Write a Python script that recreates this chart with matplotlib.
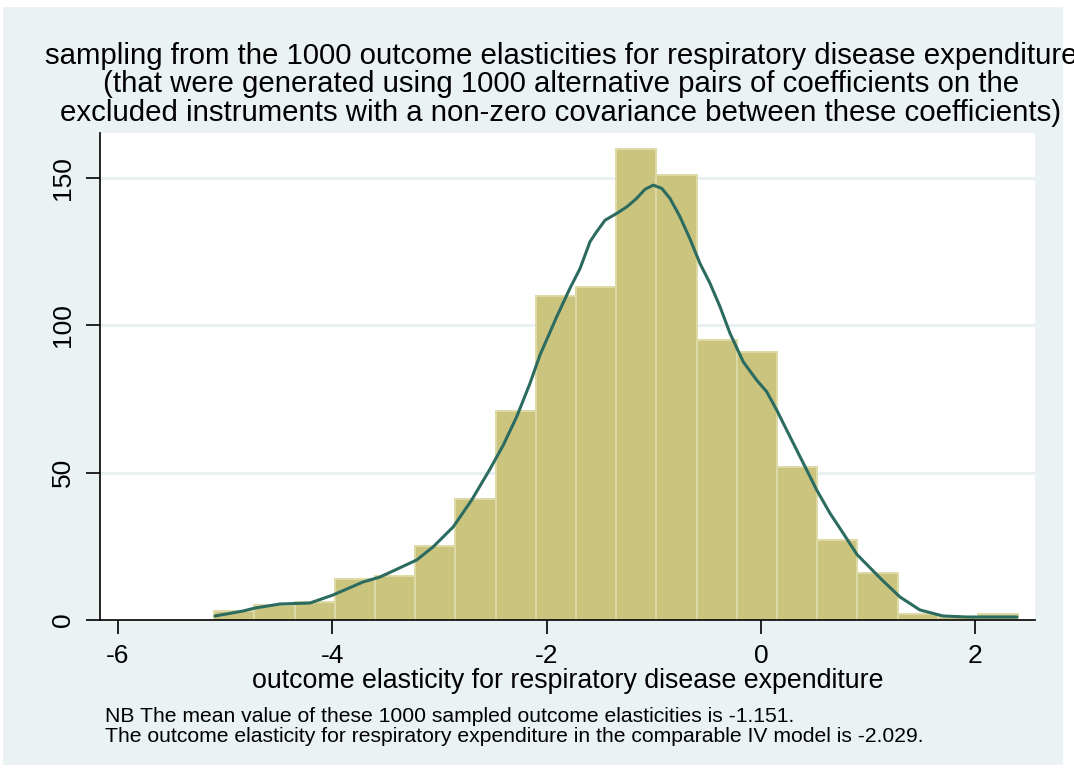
import numpy as np
import matplotlib
matplotlib.use("Agg")
import matplotlib.pyplot as plt
from matplotlib.patches import Rectangle

plt.rcParams['font.family'] = ['Liberation Sans', 'DejaVu Sans']

# Histogram of sampled outcome elasticities (20 bins)
bin_start = -5.10
bin_width = 0.375
counts = [3, 5, 6, 14, 15, 25, 41, 71, 110, 113,
          160, 151, 95, 91, 52, 27, 16, 2, 1, 2]

# Kernel density (scaled to frequency) traced over the histogram
kde_x = [-5.093, -4.832, -4.720, -4.487, -4.207, -3.993, -3.713, -3.554,
         -3.212, -3.057, -2.870, -2.699, -2.528, -2.404, -2.279, -2.155,
         -2.062, -1.906, -1.782, -1.688, -1.595, -1.533, -1.455, -1.346,
         -1.253, -1.160, -1.082, -1.005, -0.926, -0.849, -0.756, -0.662,
         -0.569, -0.476, -0.382, -0.289, -0.165, -0.040, 0.053, 0.146,
         0.271, 0.395, 0.520, 0.644, 0.737, 0.896, 1.129, 1.297,
         1.483, 1.698, 1.922, 2.388]
kde_y = [1.36, 3.05, 4.07, 5.43, 5.77, 8.48, 12.89, 14.59,
         20.36, 24.87, 31.65, 40.72, 51.24, 59.38, 68.99, 80.32,
         89.92, 102.9, 112.6, 119.3, 128.4, 131.8, 135.7, 138.0,
         140.2, 143.1, 146.2, 147.6, 146.5, 143.1, 136.9, 129.3,
         121.0, 114.3, 106.3, 97.3, 87.6, 81.4, 77.5, 71.3,
         62.2, 53.2, 44.1, 36.2, 31.1, 22.2, 13.6, 7.8,
         3.4, 1.36, 1.02, 1.02]

xticks = [-6, -4, -2, 0, 2]
yticks = [0, 50, 100, 150]

title_lines = [
    "sampling from the 1000 outcome elasticities for respiratory disease expenditure",
    "(that were generated using 1000 alternative pairs of coefficients on the",
    "excluded instruments with a non-zero covariance between these coefficients)",
]
xlabel = "outcome elasticity for respiratory disease expenditure"
note_lines = [
    "NB The mean value of these 1000 sampled outcome elasticities is -1.151.",
    "The outcome elasticity for respiratory expenditure in the comparable IV model is -2.029.",
]

W, H = 1074, 772
fig = plt.figure(figsize=(W / 100, H / 100), dpi=100, facecolor="white")

# light graph region behind everything
bg = Rectangle((3 / W, 1 - 765 / H), (1063 - 3) / W, (765 - 7) / H,
               transform=fig.transFigure, facecolor="#EAF2F3",
               edgecolor="none", zorder=-10)
fig.patches.append(bg)

ax = fig.add_axes([100 / W, 1 - 620 / H, (1035 - 100) / W, (620 - 133) / H])
ax.set_zorder(5)
ax.set_facecolor("white")

edges = bin_start + bin_width * np.arange(len(counts))
ax.bar(edges, counts, width=bin_width, align="edge",
       color="#CBC47F", edgecolor="#DEDAA6", linewidth=1.4, zorder=2)
ax.plot(kde_x, kde_y, color="#2C6B60", linewidth=2.2,
        solid_joinstyle="round", solid_capstyle="round", zorder=3)

ax.set_xlim(-6.166, 2.556)
ax.set_ylim(0, 165.3)
ax.set_xticks(xticks)
ax.set_xticklabels([str(t) for t in xticks])
ax.set_yticks(yticks)
ax.set_yticklabels([str(t) for t in yticks], rotation=90, va="center")

for g in yticks[1:]:
    ax.axhline(g, color="#E8F0F2", linewidth=2, zorder=1)

for side in ("top", "right"):
    ax.spines[side].set_visible(False)
for side in ("left", "bottom"):
    ax.spines[side].set_linewidth(1.2)
    ax.spines[side].set_color("black")

ax.tick_params(axis="both", direction="out", length=10, width=1.2,
               labelsize=19, colors="black")
ax.tick_params(axis="x", pad=7)
ax.tick_params(axis="y", pad=8)

ax.set_xlabel(xlabel, fontsize=19.3, labelpad=0)

for i, line in enumerate(title_lines):
    fig.text(561 / W, 1 - (56 + 28.5 * i) / H, line, ha="center", va="center",
             fontsize=21.15)

for i, line in enumerate(note_lines):
    fig.text(105 / W, 1 - (716 + 20 * i) / H, line, ha="left", va="center",
             fontsize=15.2)

fig.savefig("out.png", dpi=100, facecolor="white")
